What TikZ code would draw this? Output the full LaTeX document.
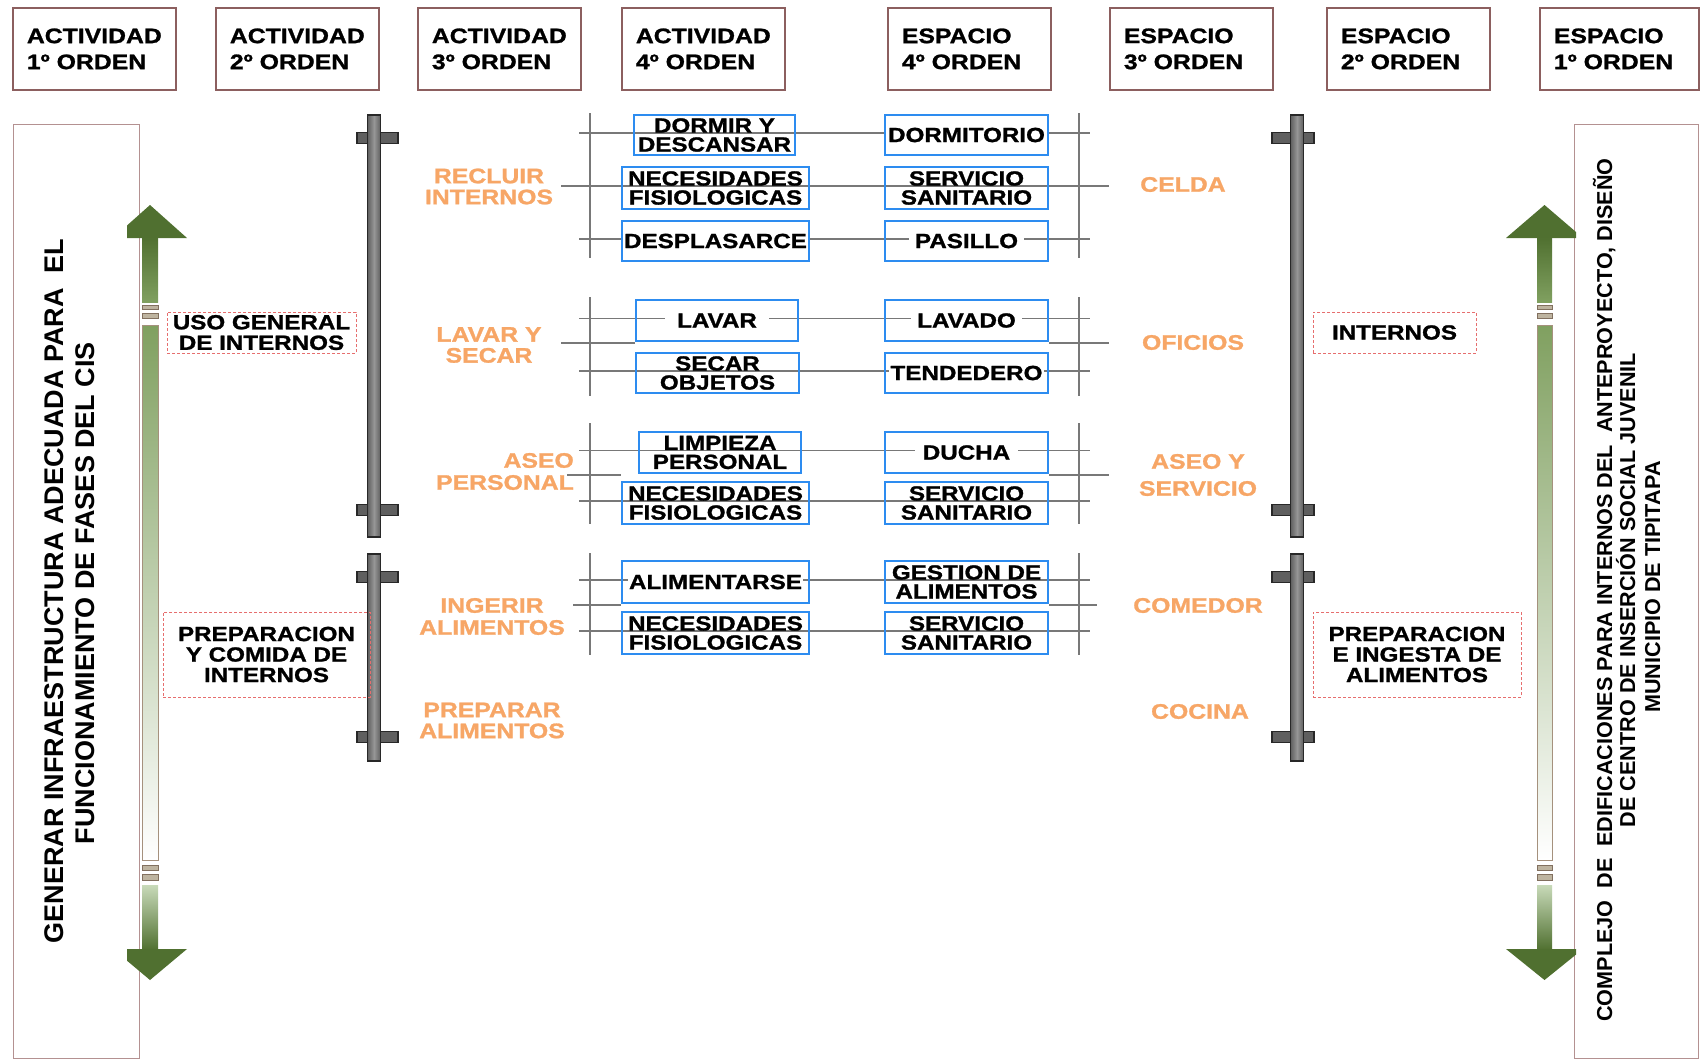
\documentclass[tikz,border=0pt]{standalone}
\usepackage{fontspec}
\setmainfont{Liberation Sans}
\newfontfamily\wb{Liberation Sans}[FakeStretch=1.18,FakeBold=1.2]
\usetikzlibrary{calc}
\pgfdeclarelayer{bg}
\pgfsetlayers{bg,main}
\definecolor{cHdr}{RGB}{140,95,95}
\definecolor{cBig}{RGB}{180,145,145}
\definecolor{cRed}{RGB}{230,110,110}
\definecolor{cBlue}{RGB}{45,140,240}
\definecolor{cOrange}{RGB}{247,166,102}
\definecolor{cRow}{RGB}{120,120,120}
\definecolor{cBar}{RGB}{95,95,95}
\definecolor{cBarLight}{RGB}{150,150,150}
\definecolor{cBarDark}{RGB}{40,40,40}
\definecolor{cGdark}{RGB}{80,112,48}
\definecolor{cGmid}{RGB}{128,160,96}
\definecolor{cGlight}{RGB}{200,218,185}
\definecolor{cMarkFill}{RGB}{190,180,160}
\definecolor{cMarkDraw}{RGB}{130,112,95}
\definecolor{cShaft}{RGB}{165,145,125}
\newcommand{\wbg}[2][6pt]{\makebox[0pt]{\setlength{\fboxsep}{#1}\colorbox{white}{#2}}}
\tikzset{
  hdr/.style={draw=cHdr, line width=1.8pt, anchor=north west, minimum width=163pt, minimum height=82pt, inner xsep=14pt, inner ysep=0pt, text width=135pt, align=left, font=\wb\bfseries\fontsize{21}{26}\selectfont},
  bigbox/.style={draw=cBig, line width=1.3pt, anchor=north west, minimum height=934pt, inner sep=0pt},
  redbox/.style={draw=cRed, densely dashed, line width=1pt, inner sep=0pt, align=center, font=\wb\bfseries\fontsize{20.5}{20.5}\selectfont},
  bluebox/.style={draw=cBlue, line width=2pt, inner sep=0pt, align=center, minimum height=41pt, font=\wb\bfseries\fontsize{20.5}{19}\selectfont},
  actbox/.style={bluebox, minimum width=187pt},
  spcbox/.style={bluebox, minimum width=163pt},
  otxt/.style={text=cOrange, inner sep=0pt, align=center, font=\wb\bfseries\fontsize{21}{21}\selectfont},
  rotL/.style={rotate=90, anchor=base, inner sep=0pt, font=\bfseries\fontsize{27}{30}\selectfont},
  rotR/.style={rotate=90, anchor=base, inner sep=0pt, font=\bfseries\fontsize{21.6}{24}\selectfont},
  rowline/.style={draw=cRow, line width=1.6pt},
  barv/.style={draw=cBarDark, line width=1.2pt, left color=cBar, right color=cBar, middle color=cBarLight},
  barh/.style={draw=cBarDark, line width=1.2pt, fill=cBar},
  brkmark/.style={fill=cMarkFill, draw=cMarkDraw, line width=0.8pt},
  headfill/.style={fill=cGdark},
}
\begin{document}
\begin{tikzpicture}[x=1pt,y=-1pt]
\useasboundingbox (0,0) rectangle (1700,1060);
\begin{pgfonlayer}{bg}
\fill[white] (0,0) rectangle (1700,1060);
\end{pgfonlayer}

% ---------- header boxes
\node[hdr] (h1) at (12,7) {ACTIVIDAD\\1º ORDEN};
\node[hdr] (h2) at (215,7) {ACTIVIDAD\\2º ORDEN};
\node[hdr] (h3) at (417,7) {ACTIVIDAD\\3º ORDEN};
\node[hdr] (h4) at (621,7) {ACTIVIDAD\\4º ORDEN};
\node[hdr] (h5) at (887,7) {ESPACIO\\4º ORDEN};
\node[hdr] (h6) at (1109,7) {ESPACIO\\3º ORDEN};
\node[hdr] (h7) at (1326,7) {ESPACIO\\2º ORDEN};
\node[hdr, minimum width=159pt, text width=131pt] (h8) at (1539,7) {ESPACIO\\1º ORDEN};

% ---------- big side boxes
\node[bigbox, minimum width=126pt] (lbox) at (13,124) {};
\node[bigbox, minimum width=124pt] (rbox) at (1574,124) {};
\node[rotL] (lt1) at (63,591) {GENERAR INFRAESTRUCTURA ADECUADA PARA\ \ EL};
\node[rotL] (lt2) at (94,593) {FUNCIONAMIENTO DE FASES DEL CIS};
\node[rotR] (rt1) at (1612,590) {COMPLEJO\ \ DE\ \ EDIFICACIONES PARA INTERNOS DEL\ \ ANTEPROYECTO, DISEÑO};
\node[rotR] (rt2) at (1635,590) {DE CENTRO DE INSERCIÓN SOCIAL JUVENIL};
\node[rotR] (rt3) at (1660,587) {MUNICIPIO DE TIPITAPA};

% ---------- green double arrows
% left
\fill[headfill] (150,205) -- (187,238) -- (127,238) -- (127,225.5) -- cycle;
\shade[top color=cGdark, bottom color=cGmid] (142,237) rectangle (158,302);
\filldraw[brkmark] (142,305) rectangle (158,309.5);
\filldraw[brkmark] (142,313) rectangle (158,318.5);
\draw[draw=cShaft, line width=1pt, top color=cGmid, bottom color=white] (142,325) rectangle (158,860);
\filldraw[brkmark] (142,865) rectangle (158,870);
\filldraw[brkmark] (142,874) rectangle (158,880);
\shade[top color=cGlight, bottom color=cGdark] (142,885) rectangle (158,950);
\fill[headfill] (127,949) -- (187,949) -- (150,980) -- (127,960.7) -- cycle;
% right
\fill[headfill] (1544.5,205) -- (1576,232) -- (1576,238) -- (1506,238) -- cycle;
\shade[top color=cGdark, bottom color=cGmid] (1537,237) rectangle (1552,302);
\filldraw[brkmark] (1537,305) rectangle (1552,309.5);
\filldraw[brkmark] (1537,313) rectangle (1552,318.5);
\draw[draw=cShaft, line width=1pt, top color=cGmid, bottom color=white] (1537,325) rectangle (1552,860);
\filldraw[brkmark] (1537,865) rectangle (1552,870);
\filldraw[brkmark] (1537,874) rectangle (1552,880);
\shade[top color=cGlight, bottom color=cGdark] (1537,885) rectangle (1552,950);
\fill[headfill] (1506,949) -- (1576,949) -- (1576,954.6) -- (1544.5,980) -- cycle;

% ---------- gray bars
\filldraw[barh] (357,132.5) rectangle (398,143.5);
\filldraw[barh] (357,504.5) rectangle (398,515.5);
\draw[barv] (367.5,115) rectangle (380.5,537);
\filldraw[barh] (357,571.5) rectangle (398,582.5);
\filldraw[barh] (357,731.5) rectangle (398,742.5);
\draw[barv] (367.5,554) rectangle (380.5,761);
\filldraw[barh] (1272,132.5) rectangle (1314,143.5);
\filldraw[barh] (1272,504.5) rectangle (1314,515.5);
\draw[barv] (1290.5,115) rectangle (1303.5,537);
\filldraw[barh] (1272,571.5) rectangle (1314,582.5);
\filldraw[barh] (1272,731.5) rectangle (1314,742.5);
\draw[barv] (1290.5,554) rectangle (1303.5,761);

% ---------- 2nd order boxes
\node[redbox, minimum width=189pt, minimum height=41pt] (u1) at (261.5,332.5) {USO GENERAL\\DE INTERNOS};
\node[redbox, minimum width=207pt, minimum height=85pt] (u2) at (266.5,654.5) {PREPARACION\\Y COMIDA DE\\INTERNOS};
\node[redbox, minimum width=163pt, minimum height=41pt] (u3) at (1394.5,332.5) {INTERNOS};
\node[redbox, minimum width=208pt, minimum height=85pt] (u4) at (1417,654.5) {PREPARACION\\E INGESTA DE\\ALIMENTOS};

% ---------- 3rd order labels
\node[otxt] (o1) at (489,186.5) {RECLUIR\\INTERNOS};
\node[otxt] (o2) at (489,345) {LAVAR Y\\SECAR};
\node[otxt, align=right, anchor=east] (o3) at (574,471.5) {ASEO\\[1pt]PERSONAL};
\node[otxt] (o4) at (492,616.5) {INGERIR\\[1pt]ALIMENTOS};
\node[otxt] (o5) at (492,720.5) {PREPARAR\\ALIMENTOS};
\node[otxt] (p1) at (1183,184.5) {CELDA};
\node[otxt] (p2) at (1193,342.5) {OFICIOS};
\node[otxt] (p3) at (1198,475) {ASEO Y\\[6pt]SERVICIO};
\node[otxt] (p4) at (1198,605.5) {COMEDOR};
\node[otxt] (p5) at (1200,711.5) {COCINA};

% ---------- 4th order boxes
\node[actbox, minimum width=161pt, minimum height=40pt] (a1) at (714.5,135) {DORMIR Y\\DESCANSAR};
\node[actbox, minimum height=42pt] (a2) at (715.5,188) {NECESIDADES\\FISIOLOGICAS};
\node[actbox, minimum height=40pt] (a3) at (715.5,241) {\wbg[1.5pt]{DESPLASARCE}};
\node[actbox, minimum width=162pt] (a4) at (717,320.5) {\wbg[12pt]{LAVAR}};
\node[actbox, minimum width=163pt, minimum height=40pt] (a5) at (717.5,373) {SECAR\\OBJETOS};
\node[actbox, minimum width=162pt] (a6) at (720,452.5) {LIMPIEZA\\PERSONAL};
\node[actbox, minimum height=42pt] (a7) at (715.5,503) {NECESIDADES\\FISIOLOGICAS};
\node[actbox, minimum height=42pt] (a8) at (715.5,582) {\wbg[1.5pt]{ALIMENTARSE}};
\node[actbox, minimum height=42pt] (a9) at (715.5,633) {NECESIDADES\\FISIOLOGICAS};

\node[spcbox, minimum height=40pt] (s1) at (966.5,135) {\wbg[2pt]{DORMITORIO}};
\node[spcbox, minimum height=42pt] (s2) at (966.5,188) {SERVICIO\\SANITARIO};
\node[spcbox, minimum height=40pt] (s3) at (966.5,241) {\wbg{PASILLO}};
\node[spcbox] (s4) at (966.5,320.5) {\wbg{LAVADO}};
\node[spcbox, minimum height=40pt] (s5) at (966.5,373) {\wbg[1.5pt]{TENDEDERO}};
\node[spcbox] (s6) at (966.5,452.5) {\wbg[8pt]{DUCHA}};
\node[spcbox, minimum height=42pt] (s7) at (966.5,503) {SERVICIO\\SANITARIO};
\node[spcbox, minimum height=42pt] (s8) at (966.5,582) {GESTION DE\\ALIMENTOS};
\node[spcbox, minimum height=42pt] (s9) at (966.5,633) {SERVICIO\\SANITARIO};

% ---------- connector grid (behind the boxes)
\coordinate (g1lt) at (590,113); \coordinate (g1lb) at (590,258);
\coordinate (g1rt) at (1079,113); \coordinate (g1rb) at (1079,258);
\coordinate (g2lt) at (590,297); \coordinate (g2lb) at (590,396);
\coordinate (g2rt) at (1079,297); \coordinate (g2rb) at (1079,396);
\coordinate (g3lt) at (590,423); \coordinate (g3lb) at (590,524);
\coordinate (g3rt) at (1079,423); \coordinate (g3rb) at (1079,524);
\coordinate (g4lt) at (590,553); \coordinate (g4lb) at (590,655);
\coordinate (g4rt) at (1079,553); \coordinate (g4rb) at (1079,655);
\coordinate (st2l) at (561,343); \coordinate (st2r) at (1109,343);
\coordinate (st3l) at (567,475); \coordinate (st3r) at (1109,475);
\coordinate (st4l) at (573,605); \coordinate (st4r) at (1097,605);
\begin{pgfonlayer}{bg}
\draw[rowline] (g1lt) -- (g1lb); \draw[rowline] (g1rt) -- (g1rb);
\draw[rowline] (g2lt) -- (g2lb); \draw[rowline] (g2rt) -- (g2rb);
\draw[rowline] (g3lt) -- (g3lb); \draw[rowline] (g3rt) -- (g3rb);
\draw[rowline] (g4lt) -- (g4lb); \draw[rowline] (g4rt) -- (g4rb);
% rows
\draw[rowline] ($(g1lt |- a1)+(-11,-2)$) -- ($(g1rt |- s1)+(11,-2)$);
\draw[rowline] ($(g1lt |- a2)+(-29,-2)$) -- ($(g1rt |- s2)+(30,-2)$);
\draw[rowline] ($(g1lt |- a3)+(-11,-2)$) -- ($(g1rt |- s3)+(11,-2)$);
\draw[rowline] ($(g2lt |- a4)+(-11,-2)$) -- ($(g2rt |- s4)+(11,-2)$);
\draw[rowline] ($(g2lt |- a5)+(-11,-2)$) -- ($(g2rt |- s5)+(11,-2)$);
\draw[rowline] ($(g3lt |- a6)+(-11,-2)$) -- ($(g3rt |- s6)+(11,-2)$);
\draw[rowline] ($(g3lt |- a7)+(-11,-2)$) -- ($(g3rt |- s7)+(11,-2)$);
\draw[rowline] ($(g4lt |- a8)+(-11,-2)$) -- ($(g4rt |- s8)+(11,-2)$);
\draw[rowline] ($(g4lt |- a9)+(-11,-2)$) -- ($(g4rt |- s9)+(11,-2)$);
% group stubs toward the 3rd-order labels
\draw[rowline] (st2l) -- (st2l -| a4.west);
\draw[rowline] (st2r -| s4.east) -- (st2r);
\draw[rowline] (st3l) -- (st3l -| a7.west);
\draw[rowline] (st3r -| s7.east) -- (st3r);
\draw[rowline] (st4l) -- (st4l -| a9.west);
\draw[rowline] (st4r -| s9.east) -- (st4r);
\end{pgfonlayer}
\end{tikzpicture}
\end{document}
